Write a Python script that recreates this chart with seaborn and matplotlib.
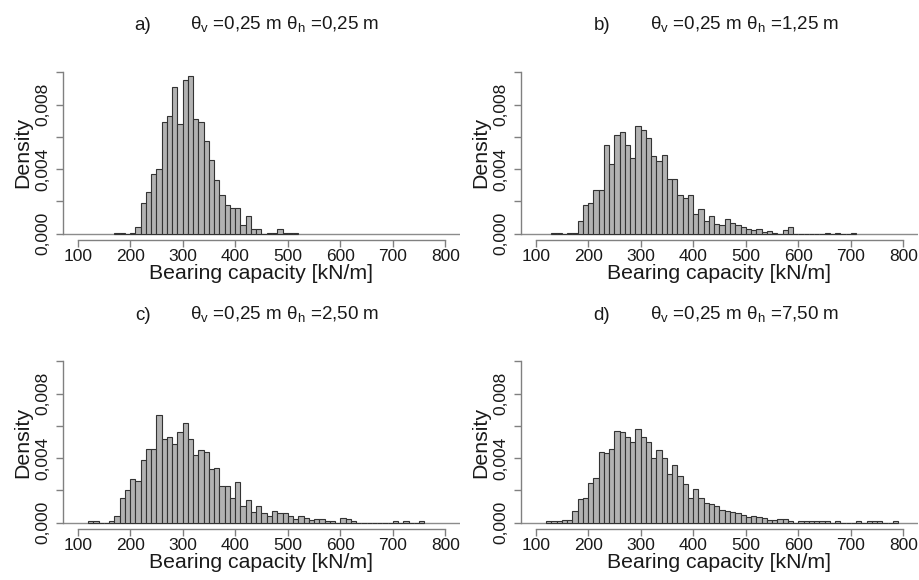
import numpy as np
import pandas as pd
import matplotlib
matplotlib.use("Agg")
import matplotlib.pyplot as plt
import seaborn as sns

# bin width 10 kN/m, densities read per bin, starting at the given left edge
a_start = 170
a_dens = [0.00005, 0.00005, 0.0, 0.00005, 0.0004, 0.0019, 0.0026, 0.0037, 0.0040, 0.0069,
          0.0073, 0.0091, 0.0068, 0.0095, 0.00975, 0.0071, 0.0069, 0.00575, 0.00456, 0.0033,
          0.0024, 0.0018, 0.0016, 0.0016, 0.0005, 0.0011, 0.0003, 0.0003, 0.0, 0.00005,
          0.00005, 0.0003, 0.00005, 0.00005, 0.00005]

b_start = 130
b_dens = [0.00005, 0.00005, 0.0, 0.00005, 0.00005, 0.00077, 0.0018, 0.0019, 0.0027, 0.0027,
          0.0055, 0.0043, 0.0061, 0.0063, 0.0055, 0.0047, 0.00665, 0.0064, 0.0059, 0.0048,
          0.0045, 0.0049, 0.0034, 0.0034, 0.0024, 0.0022, 0.0024, 0.0012, 0.0015, 0.00075,
          0.0011, 0.0006, 0.0005, 0.00088, 0.00067, 0.0005, 0.00038, 0.0003, 0.0002, 0.0003,
          0.0001, 0.00017, 0.00006, 0.0, 0.0002, 0.0004, 0.0, 0.0, 0.0, 0.0,
          0.0, 0.0, 0.00005, 0.0, 0.00005, 0.0, 0.0, 0.00005]

c_start = 120
c_dens = [0.00012, 0.00012, 0.0, 0.0, 0.0001, 0.0004, 0.0015, 0.002, 0.0027, 0.0026,
          0.0039, 0.00454, 0.00458, 0.0067, 0.0052, 0.0053, 0.0049, 0.0056, 0.0062, 0.0052,
          0.0042, 0.0045, 0.0044, 0.0033, 0.0034, 0.0023, 0.0023, 0.0015, 0.0025, 0.001,
          0.0014, 0.00066, 0.00105, 0.0006, 0.00043, 0.00074, 0.00062, 0.00062, 0.00043, 0.00023,
          0.0004, 0.0003, 0.00014, 0.0002, 0.0002, 0.00012, 0.00012, 0.0, 0.0003, 0.00023,
          0.00012, 0.0, 0.0, 0.0, 0.0, 0.0, 0.0, 0.0, 0.00012, 0.0,
          0.00012, 0.0, 0.0, 0.00012]

d_start = 120
d_dens = [0.00008, 0.00008, 0.00008, 0.00014, 0.00014, 0.0007, 0.00146, 0.0015, 0.00245, 0.00276,
          0.0044, 0.0043, 0.00454, 0.0057, 0.00565, 0.0053, 0.005, 0.0058, 0.0053, 0.005,
          0.004, 0.0045, 0.004, 0.003, 0.0036, 0.0029, 0.0024, 0.0015, 0.0021, 0.0015,
          0.0012, 0.00115, 0.00105, 0.0008, 0.00074, 0.00064, 0.00062, 0.0005, 0.00033, 0.00043,
          0.00037, 0.00027, 0.00014, 0.00014, 0.0002, 0.0002, 0.00012, 0.0, 0.00012, 0.00012,
          0.00012, 0.00012, 0.00008, 0.00008, 0.0, 0.0001, 0.0, 0.0, 0.0, 0.0001,
          0.0, 0.0001, 0.0001, 0.0001, 0.0, 0.0, 0.0001]

letters = ["a)", "b)", "c)", "d)"]
theta_h = ["0,25", "1,25", "2,50", "7,50"]
x_ticks = [100, 200, 300, 400, 500, 600, 700, 800]
y_ticks = [0.0, 0.002, 0.004, 0.006, 0.008, 0.010]
y_labels = ["0,000", "", "0,004", "", "0,008", ""]

sns.set_style("white")
plt.rcParams["font.family"] = ["Liberation Sans", "DejaVu Sans"]
plt.rcParams["mathtext.fontset"] = "custom"
plt.rcParams["mathtext.rm"] = "Liberation Sans"

fig = plt.figure(figsize=(9.2, 5.8), dpi=100)

# axes boxes in pixels: left, top, right, bottom
boxes = [(63, 66, 460, 240), (521, 66, 918, 240),
         (63, 355, 460, 529), (521, 355, 918, 529)]
panels = [(a_start, a_dens), (b_start, b_dens), (c_start, c_dens), (d_start, d_dens)]
axis_col = "#808080"

for i, ((l, t, r, b), (start, dens)) in enumerate(zip(boxes, panels)):
    ax = fig.add_axes([l / 920, 1 - b / 580, (r - l) / 920, (b - t) / 580])
    edges = [float(start + 10 * k) for k in range(len(dens) + 1)]
    df = pd.DataFrame({"capacity": [e + 5 for e in edges[:-1]], "density": dens})
    ax.axhline(0, color="#8c8c8c", lw=1.0, zorder=0)
    sns.histplot(data=df, x="capacity", weights="density", bins=edges, stat="count", ax=ax,
                 color="#b2b2b2", edgecolor="#333333", linewidth=0.8, alpha=1)
    ax.set_xlim(72, 828)
    ax.set_ylim(-0.0004, 0.0104)
    ax.set_xticks(x_ticks)
    ax.set_xticklabels([str(v) for v in x_ticks])
    ax.set_yticks(y_ticks)
    ax.set_yticklabels(y_labels, rotation=90, va="center")
    for s in ["top", "right"]:
        ax.spines[s].set_visible(False)
    ax.spines["left"].set_bounds(0, 0.010)
    ax.spines["bottom"].set_bounds(100, 800)
    for s in ["left", "bottom"]:
        ax.spines[s].set_color(axis_col)
        ax.spines[s].set_linewidth(1.0)
    ax.tick_params(axis="both", bottom=True, left=True, length=5, width=1.0, color=axis_col,
                   labelsize=12.5, labelcolor="#1a1a1a")
    ax.tick_params(axis="x", pad=1.5)
    ax.tick_params(axis="y", pad=4)
    ax.set_xlabel("Bearing capacity [kN/m]", fontsize=15.3, color="#1a1a1a", labelpad=0)
    ax.set_ylabel("Density", fontsize=15.3, color="#1a1a1a", labelpad=2)

    # panel titles
    cx = 143 if i % 2 == 0 else 602
    tx = 190 if i % 2 == 0 else 650
    ty = 25 if i < 2 else 315
    fig.text(cx / 920, 1 - ty / 580, letters[i], fontsize=13.5, ha="center", va="center",
             color="#1a1a1a")
    title = (r"θ$_\mathregular{v}$ =0,25 m θ$_\mathregular{h}$ =" + theta_h[i] + " m")
    fig.text(tx / 920, 1 - ty / 580, title, fontsize=13.5, ha="left", va="center",
             color="#1a1a1a")

fig.savefig("out.png", dpi=100)
